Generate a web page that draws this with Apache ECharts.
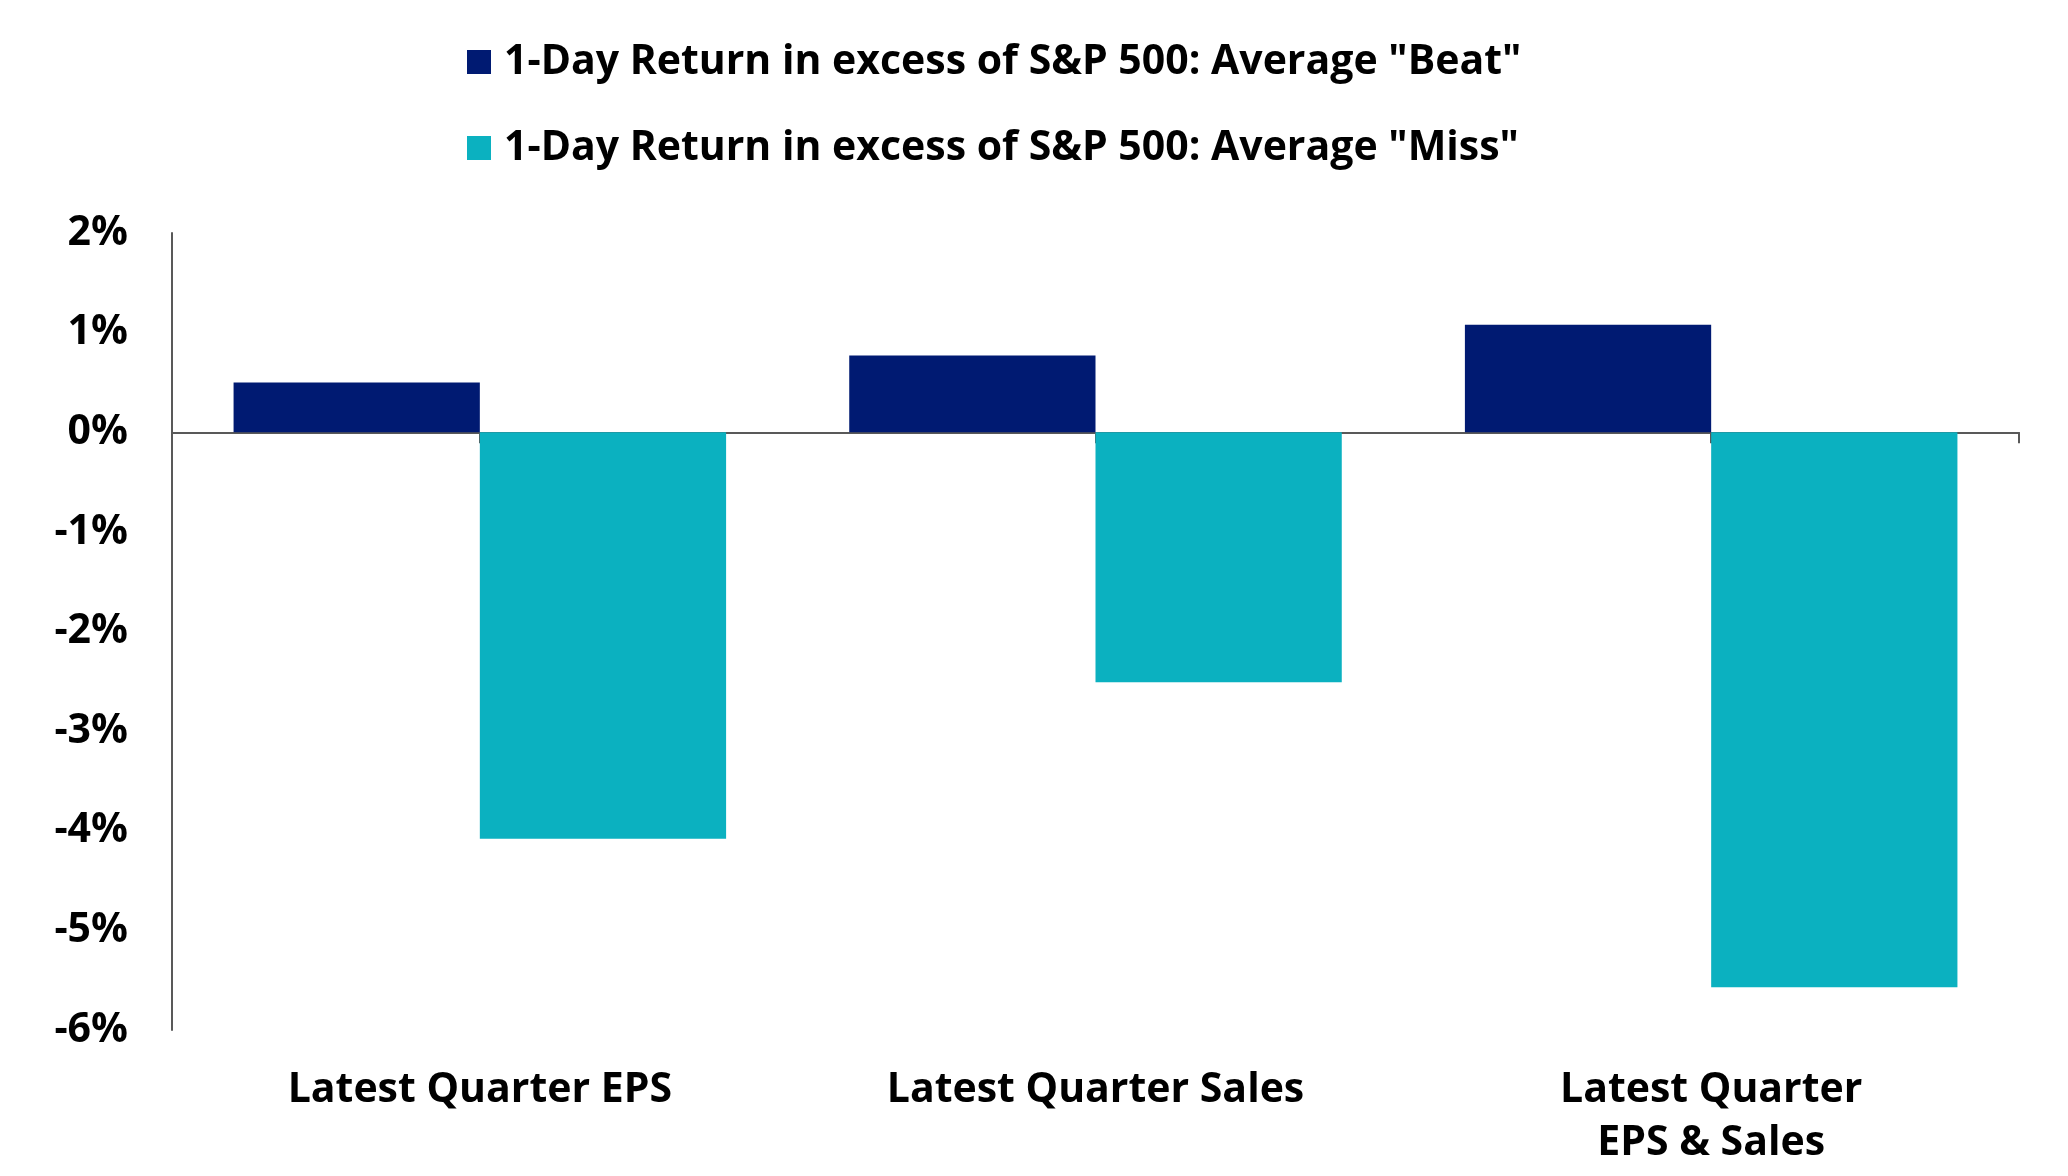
<!DOCTYPE html>
<html>
<head>
<meta charset="utf-8">
<script src="https://cdn.jsdelivr.net/npm/echarts@6/dist/echarts.min.js"></script>
<style>
  html, body { margin: 0; padding: 0; background: #fff; }
  #chartMain { width: 2068px; height: 1176px; }
</style>
</head>
<body>
<div id="chartMain"></div>
<script>
// categories and values (in %)
let categories = ['Latest Quarter EPS', 'Latest Quarter Sales', 'Latest Quarter\nEPS & Sales'];
let beatData = [0.50, 0.77, 1.08];
let missData = [-4.08, -2.51, -5.57];
let seriesNames = ['1-Day Return in excess of S&P 500: Average "Beat"', '1-Day Return in excess of S&P 500: Average "Miss"'];
// half-category steps for the zero line ticks
let tickSteps = ['0', '0.5', '1', '1.5', '2', '2.5', '3'];

let fontName = "'Open Sans', 'Noto Sans', sans-serif";

option1 = {
  animation: false,
  backgroundColor: '#ffffff',
  legend: {
    orient: 'vertical',
    left: 462,
    top: 35,
    itemWidth: 24,
    itemHeight: 24,
    itemGap: 42,
    icon: 'rect',
    textStyle: {
      fontFamily: fontName,
      fontWeight: 'bold',
      fontSize: 41,
      color: '#000',
      lineHeight: 44,
      padding: [0, 0, 0, 8]
    },
    data: seriesNames
  },
  grid: {
    left: 172,
    right: 49,
    top: 233,
    bottom: 146
  },
  xAxis: [{
    type: 'category',
    data: categories,
    axisLine: { show: false, onZero: false },
    axisTick: { show: false },
    axisLabel: {
      fontFamily: fontName,
      fontWeight: 'bold',
      fontSize: 41,
      color: '#000',
      lineHeight: 53,
      margin: 34
    }
  }, {
    // zero line with ticks
    type: 'category',
    position: 'bottom',
    data: tickSteps,
    boundaryGap: false,
    axisLine: { show: true, onZero: true, lineStyle: { color: '#595959', width: 2 } },
    axisTick: {
      show: true,
      length: 11,
      lineStyle: { color: '#595959', width: 2 },
      interval: function (index) { return index % 2 === 1 || index === 6; }
    },
    axisLabel: { show: false },
    splitLine: { show: false }
  }],
  yAxis: {
    type: 'value',
    min: -6,
    max: 2,
    interval: 1,
    splitLine: { show: false },
    axisLine: { show: true, lineStyle: { color: '#595959', width: 2 } },
    axisTick: { show: false },
    axisLabel: {
      formatter: '{value}%',
      fontFamily: fontName,
      fontWeight: 'bold',
      fontSize: 41,
      color: '#000',
      margin: 44
    }
  },
  series: [
    {
      name: seriesNames[0],
      type: 'bar',
      xAxisIndex: 0,
      data: beatData,
      barGap: '0%',
      barCategoryGap: '20%',
      itemStyle: { color: '#001A72' }
    },
    {
      name: seriesNames[1],
      type: 'bar',
      xAxisIndex: 0,
      data: missData,
      barGap: '0%',
      barCategoryGap: '20%',
      itemStyle: { color: '#0BB1C0' }
    }
  ]
};

var Plotter = {
  myChart: '',
  init: function (domID, option) {
    let chartDom = document.getElementById(domID);
    this.myChart = echarts.init(chartDom);
    this.myChart.setOption(option);
  }
};
Plotter.init('chartMain', option1);
</script>
</body>
</html>
